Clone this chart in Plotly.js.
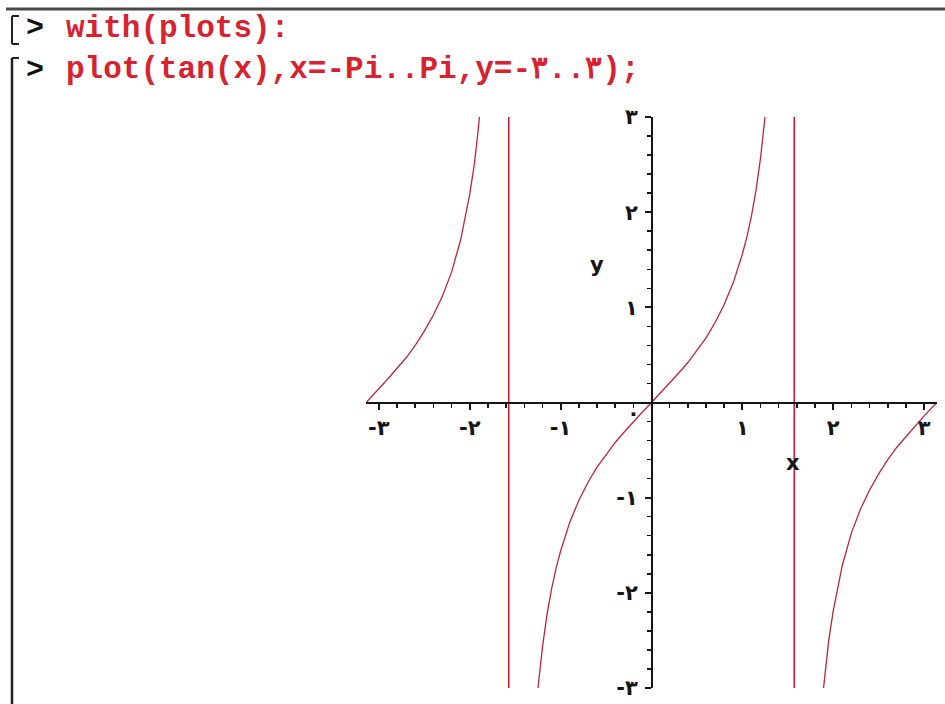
<!DOCTYPE html>
<html>
<head>
<meta charset="utf-8">
<script src="https://cdn.plot.ly/plotly-3.0.1.min.js"></script>
<style>
  html, body { margin: 0; padding: 0; background: #ffffff; }
  #plot { width: 945px; height: 704px; }
</style>
</head>
<body>
<div id="plot"></div>
<script>
// tan(x) on -Pi..Pi, three branches separated by gaps
const branchX = [
  -3.14, -3.0, -2.9, -2.8, -2.7, -2.6, -2.5, -2.4, -2.3, -2.2, -2.1, -2.0, -1.95, -1.92, -1.893, null,
  -1.249, -1.2, -1.15, -1.1, -1.05, -1.0, -0.9, -0.8, -0.7, -0.6, -0.5, -0.4, -0.3, -0.2, -0.1, 0,
  0.1, 0.2, 0.3, 0.4, 0.5, 0.6, 0.7, 0.8, 0.9, 1.0, 1.05, 1.1, 1.15, 1.2, 1.249, null,
  1.893, 1.92, 1.95, 2.0, 2.1, 2.2, 2.3, 2.4, 2.5, 2.6, 2.7, 2.8, 2.9, 3.0, 3.14
];
const branchY = [
  0, 0.14, 0.25, 0.36, 0.47, 0.60, 0.75, 0.92, 1.12, 1.37, 1.71, 2.19, 2.50, 2.75, 3.0, null,
  -3.0, -2.57, -2.23, -1.96, -1.74, -1.56, -1.26, -1.03, -0.84, -0.68, -0.55, -0.42, -0.31, -0.20, -0.10, 0,
  0.10, 0.20, 0.31, 0.42, 0.55, 0.68, 0.84, 1.03, 1.26, 1.56, 1.74, 1.96, 2.23, 2.57, 3.0, null,
  -3.0, -2.75, -2.50, -2.19, -1.71, -1.37, -1.12, -0.92, -0.75, -0.60, -0.47, -0.36, -0.25, -0.14, 0
];

// near-vertical jumps drawn where the curve crosses x = -Pi/2 and x = Pi/2
const jumpX = [-1.571, -1.571, null, 1.571, 1.571];
const jumpY = [3, -3, null, 3, -3];

const majorTicks = [-3, -2, -1, 1, 2, 3];
const xTickText = ['-۳', '-۲', '-۱', '۱', '۲', '۳'];
const yTickText = ['-۳', '-۲', '-۱', '۱', '۲', '۳'];

const worksheetLines = [
  { prompt: '>', code: 'with(plots):' },
  { prompt: '>', code: 'plot(tan(x),x=-Pi..Pi,y=-۳..۳);' }
];

const W = 945, H = 704;
const px = v => v / W;
const py = v => 1 - v / H;

const curveColor = '#b8273a';
const axisColor = '#151515';
const tickFont = { family: 'DejaVu Sans', size: 21, color: axisColor, weight: 'bold' };

const traces = [
  {
    x: branchX, y: branchY, type: 'scatter', mode: 'lines',
    line: { color: curveColor, width: 1.3 }, connectgaps: false,
    hoverinfo: 'skip', showlegend: false
  },
  {
    x: jumpX, y: jumpY, type: 'scatter', mode: 'lines',
    line: { color: '#c21f35', width: 1.6 }, connectgaps: false,
    hoverinfo: 'skip', showlegend: false
  }
];

const annotations = [];
const codeRows = [28, 70];
worksheetLines.forEach((row, i) => {
  annotations.push({
    xref: 'paper', yref: 'paper', x: px(24), y: py(codeRows[i]),
    xanchor: 'left', yanchor: 'middle', showarrow: false,
    text: row.prompt,
    font: { family: 'Liberation Mono', size: 30, color: '#111111', weight: 'bold' }
  });
  annotations.push({
    xref: 'paper', yref: 'paper', x: px(64), y: py(codeRows[i]),
    xanchor: 'left', yanchor: 'middle', showarrow: false,
    text: row.code,
    font: { family: 'Liberation Mono', size: 31, color: '#d8222e', weight: 'bold' }
  });
});

// axis names and the zero mark near the origin
annotations.push({
  xref: 'paper', yref: 'paper', x: px(793), y: py(463),
  xanchor: 'center', yanchor: 'middle', showarrow: false,
  text: 'x', font: { family: 'DejaVu Sans', size: 21, color: axisColor, weight: 'bold' }
});
annotations.push({
  xref: 'paper', yref: 'paper', x: px(597), y: py(265),
  xanchor: 'center', yanchor: 'middle', showarrow: false,
  text: 'y', font: { family: 'DejaVu Sans', size: 21, color: axisColor, weight: 'bold' }
});
annotations.push({
  xref: 'paper', yref: 'paper', x: px(633), y: py(413),
  xanchor: 'center', yanchor: 'middle', showarrow: false,
  text: '۰', font: tickFont
});

// worksheet frame: top rule and execution-group brackets
const shapes = [
  { type: 'line', xref: 'paper', yref: 'paper', x0: px(6), x1: 1, y0: py(9), y1: py(9),
    line: { color: '#4a4a4a', width: 3 } },
  { type: 'line', xref: 'paper', yref: 'paper', x0: px(12), x1: px(12), y0: py(16), y1: py(44),
    line: { color: '#222222', width: 2 } },
  { type: 'line', xref: 'paper', yref: 'paper', x0: px(12), x1: px(19), y0: py(16), y1: py(16),
    line: { color: '#222222', width: 2 } },
  { type: 'line', xref: 'paper', yref: 'paper', x0: px(12), x1: px(19), y0: py(44), y1: py(44),
    line: { color: '#222222', width: 2 } },
  { type: 'line', xref: 'paper', yref: 'paper', x0: px(12), x1: px(12), y0: py(58), y1: 0,
    line: { color: '#222222', width: 2.5 } },
  { type: 'line', xref: 'paper', yref: 'paper', x0: px(12), x1: px(19), y0: py(58), y1: py(58),
    line: { color: '#222222', width: 2 } }
];

const layout = {
  width: W, height: H,
  margin: { l: 0, r: 0, t: 0, b: 0, pad: 0 },
  paper_bgcolor: '#ffffff', plot_bgcolor: 'rgba(0,0,0,0)',
  showlegend: false,
  xaxis: {
    domain: [px(366), px(937)], range: [-Math.PI, Math.PI],
    anchor: 'free', position: py(403),
    showline: true, linecolor: axisColor, linewidth: 2,
    showgrid: false, zeroline: false,
    ticks: 'outside', ticklen: 6, tickwidth: 2, tickcolor: axisColor,
    tickmode: 'array', tickvals: majorTicks, ticktext: xTickText,
    tickfont: tickFont, ticklabelstandoff: 0,
    minor: { tickmode: 'linear', tick0: 0, dtick: 0.2, ticks: 'outside', ticklen: 4,
             tickwidth: 1.5, tickcolor: axisColor, showgrid: false },
    fixedrange: true
  },
  yaxis: {
    domain: [1 - 688 / H, 1 - 117 / H], range: [-3, 3],
    anchor: 'free', position: px(652),
    showline: true, linecolor: axisColor, linewidth: 2,
    showgrid: false, zeroline: false,
    ticks: 'outside', ticklen: 6, tickwidth: 2, tickcolor: axisColor,
    tickmode: 'array', tickvals: majorTicks, ticktext: yTickText,
    tickfont: tickFont, ticklabelstandoff: 3,
    minor: { tickmode: 'linear', tick0: 0, dtick: 0.2, ticks: 'outside', ticklen: 4,
             tickwidth: 1.5, tickcolor: axisColor, showgrid: false },
    fixedrange: true
  },
  annotations: annotations,
  shapes: shapes
};

Plotly.newPlot('plot', traces, layout, { staticPlot: true, displayModeBar: false });
</script>
</body>
</html>
